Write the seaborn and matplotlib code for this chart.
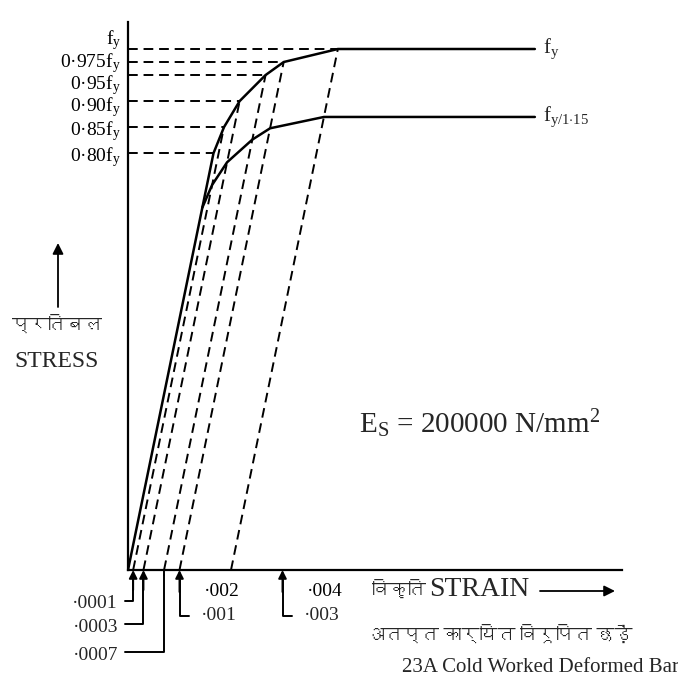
import numpy as np
import matplotlib
matplotlib.use('Agg')
import matplotlib.pyplot as plt
import seaborn as sns
import pandas as pd
from matplotlib import font_manager
from matplotlib.ft2font import FT2Font
from matplotlib.transforms import blended_transform_factory, ScaledTranslation

# IS 456 Fig 23A - cold worked deformed bar
fy = 415.0
Es = 200000.0
partial_factor = 1.15
stress_ratio = [0.80, 0.85, 0.90, 0.95, 0.975, 1.0]
inelastic = [0.0, 0.0001, 0.0003, 0.0007, 0.001, 0.002]
stress_labels = ['0·80f$_{\\rm y}$', '0·85f$_{\\rm y}$', '0·90f$_{\\rm y}$',
                 '0·95f$_{\\rm y}$', '0·975f$_{\\rm y}$', 'f$_{\\rm y}$']
plateau_end = 0.0079
strain_ticks = [0.002, 0.004]
strain_tick_labels = ['·002', '·004']
left_marks = [0.0001, 0.0003, 0.0007]
left_mark_labels = ['·0001', '·0003', '·0007']
right_marks = [0.001, 0.003]
right_mark_labels = ['·001', '·003']


def find_font(ch):
    for f in font_manager.fontManager.ttflist:
        try:
            if ord(ch) in FT2Font(f.fname).get_charmap():
                return f.name
        except Exception:
            pass
    return None


sns.set_style('white')
deva = find_font('क')
families = ['Liberation Serif']
if deva:
    families.append(deva)
families.append('DejaVu Sans')
plt.rcParams['font.family'] = families
plt.rcParams['mathtext.fontset'] = 'custom'
plt.rcParams['mathtext.rm'] = 'Liberation Serif'
plt.rcParams['mathtext.it'] = 'Liberation Serif:italic'

W, H = 678, 689
X0, Y0 = 128, 570           # axis origin in pixels
PX_STRAIN = 51.5 / 0.001    # pixels per unit strain
PX_STRESS = 521.0           # pixels per fy

fig = plt.figure(figsize=(W / 100, H / 100), dpi=100)
ax_w, ax_h = 494, 548
ax = fig.add_axes([X0 / W, (H - Y0) / H, ax_w / W, ax_h / H])
ax.set_xlim(0, ax_w / PX_STRAIN)
ax.set_ylim(0, ax_h / PX_STRESS)

ratio = np.array(stress_ratio)
inel = np.array(inelastic)
strain_pts = ratio * fy / Es + inel

upper = pd.DataFrame({'strain': np.r_[0, strain_pts, plateau_end],
                      'stress': np.r_[0, ratio, 1.0]})
low_ratio = ratio / partial_factor
lower = pd.DataFrame({'strain': np.r_[low_ratio * fy / Es + inel, plateau_end],
                      'stress': np.r_[low_ratio, low_ratio[-1]]})

dash = (0, (5, 3))
# horizontal dashed lines from stress axis to the curve points
for s, e in zip(ratio, strain_pts):
    ax.plot([0, e], [s, s], color='black', lw=1.4, ls=dash, clip_on=False)
# dashed lines parallel to elastic line from the inelastic strains
for s, e, i in zip(ratio, strain_pts, inel):
    if i > 0:
        ax.plot([i, e], [0, s], color='black', lw=1.4, ls=dash)

sns.lineplot(data=upper, x='strain', y='stress', sort=False, estimator=None,
             color='black', lw=1.8, ax=ax)
sns.lineplot(data=lower, x='strain', y='stress', sort=False, estimator=None,
             color='black', lw=1.8, ax=ax)

ax.text(plateau_end + 0.00015, 1.0, 'f$_{\\rm y}$', fontsize=15, va='center', ha='left')
ax.text(plateau_end + 0.00015, low_ratio[-1], 'f$_{\\rm y/1{\\cdot}15}$', fontsize=15,
        va='center', ha='left')

for sp in ['top', 'right']:
    ax.spines[sp].set_visible(False)
for sp in ['left', 'bottom']:
    ax.spines[sp].set_color('black')
    ax.spines[sp].set_linewidth(1.6)

ax.set_yticks(stress_ratio)
ax.set_yticklabels(stress_labels, fontsize=14)
ax.tick_params(axis='y', direction='out', length=4, width=1.2, pad=1, colors='black')
# spread the crowded labels near the top a little, as in the original
label_shift = [0, 0, -2, -6, 3, 13]
for lab, dy in zip(ax.get_yticklabels(), label_shift):
    lab.set_transform(lab.get_transform() + ScaledTranslation(0, dy / 100, fig.dpi_scale_trans))
ax.set_xticks(strain_ticks)
ax.set_xticklabels(strain_tick_labels, fontsize=14)
ax.tick_params(axis='x', direction='in', length=6, width=1.2, pad=9, colors='black')
for lab in ax.get_xticklabels():
    lab.set_transform(lab.get_transform() + ScaledTranslation(-0.09, 0, fig.dpi_scale_trans))
ax.set_xlabel('')
ax.set_ylabel('')

# leader lines for the small strains below the axis
trans = blended_transform_factory(ax.transData, ax.transAxes)


def ya(py):
    return (Y0 - py) / ax_h


label_x = -10 / PX_STRAIN
for m, lab, py, arrow in zip(left_marks, left_mark_labels, [601, 624, 652], [True, True, False]):
    ax.plot([-3 / PX_STRAIN, m, m], [ya(py), ya(py), ya(575)], color='black', lw=1.4,
            transform=trans, clip_on=False)
    if arrow:
        ax.annotate('', xy=(m, 0), xycoords=trans, xytext=(m, ya(590)), textcoords=trans,
                    arrowprops=dict(arrowstyle='-|>', color='black', lw=1.4,
                                    mutation_scale=12, shrinkA=0, shrinkB=0))
    else:
        ax.plot([m, m], [ya(575), 0], color='black', lw=1.4, transform=trans, clip_on=False)
    ax.text(label_x, ya(py + 3), lab, fontsize=14, ha='right', va='center', transform=trans)

for m, lab in zip(right_marks, right_mark_labels):
    ax.plot([m, m, m + 9 / PX_STRAIN], [ya(580), ya(616), ya(616)], color='black', lw=1.4,
            transform=trans, clip_on=False)
    ax.annotate('', xy=(m, 0), xycoords=trans, xytext=(m, ya(592)), textcoords=trans,
                arrowprops=dict(arrowstyle='-|>', color='black', lw=1.4,
                                mutation_scale=12, shrinkA=0, shrinkB=0))
    ax.text(m + 21 / PX_STRAIN, ya(616), lab, fontsize=14, ha='left', va='center',
            transform=trans)

# axis titles
ax.annotate('', xy=(58, H - 243), xycoords='figure pixels', xytext=(58, H - 307),
            arrowprops=dict(arrowstyle='-|>', color='black', lw=1.3, mutation_scale=16,
                            shrinkA=0, shrinkB=0))
fig.text(57 / W, 1 - 325 / H, 'प्रतिबल', fontsize=13, ha='center', va='center')
fig.text(57 / W, 1 - 362 / H, 'STRESS', fontsize=17, ha='center', va='center')

fig.text(372 / W, 1 - 590 / H, 'विकृति', fontsize=13, ha='left', va='center')
fig.text(429 / W, 1 - 590 / H, 'STRAIN', fontsize=20, ha='left', va='center')
ax.annotate('', xy=(615, H - 591), xycoords='figure pixels', xytext=(540, H - 591),
            arrowprops=dict(arrowstyle='-|>', color='black', lw=1.3, mutation_scale=16,
                            shrinkA=0, shrinkB=0))

fig.text(480 / W, 1 - 424 / H, 'E$_{\\rm S}$ = 200000 N/mm$^{2}$', fontsize=21,
         ha='center', va='center')

fig.text(500 / W, 1 - 635 / H, 'अतप्त कार्यित विरूपित छड़ें', fontsize=13, ha='center', va='center')
fig.text(541 / W, 1 - 668 / H, '23A Cold Worked Deformed Bar', fontsize=15,
         ha='center', va='center')

fig.savefig('out.png', dpi=100)
